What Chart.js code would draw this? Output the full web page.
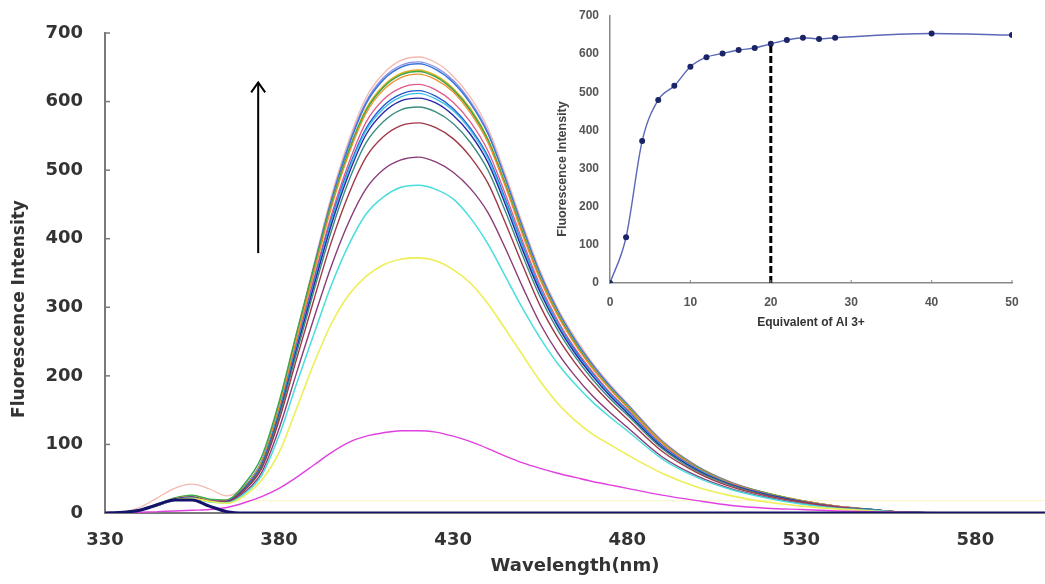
<!DOCTYPE html>
<html><head><meta charset="utf-8">
<script src="https://cdn.jsdelivr.net/npm/chart.js@4"></script>
<style>
html,body{margin:0;padding:0;background:#fff;}
#wrap{position:relative;width:1045px;height:584px;overflow:hidden;background:#fff;}
#main{position:absolute;left:0;top:0;}
#inset{position:absolute;left:545px;top:0;}
</style></head><body>
<div id="wrap"><canvas id="main" width="1045" height="584"></canvas><canvas id="inset" width="490" height="340"></canvas></div>
<script>
// ---------- main spectra data ----------
const wavelengths = [330,335,340,345,350,355,360,365,370,375,380,385,390,395,400,405,410,415,420,425,430,435,440,445,450,455,460,465,470,475,480,490,500,510,520,530,540,550,560,580,600];
const xTickValues = [330,380,430,480,530,580];
const xTitle = 'Wavelength(nm)';
const yTitle = 'Fluorescence Intensity';

const s665 = [0,2,8,22,36,42,35,25,39,76,157,262,363,462,543,606,641,660,665,657,637,606,561,494,421,353,299,256,219,188,160,106,69,45,29,18,10,5,1,0,0];
const s658 = [0,1,4,12,21,24,18,18,38,75,156,259,360,457,538,600,635,653,658,650,631,600,556,489,417,350,296,253,217,186,159,105,68,44,29,18,10,5,1,0,0];
const s655 = [0,1,4,12,20,23,18,17,38,75,155,258,358,455,535,597,632,650,655,647,628,597,553,487,415,348,295,252,216,185,158,104,68,44,29,18,10,5,1,0,0];
const s646 = [0,1,4,12,21,25,19,18,37,74,153,254,353,449,527,589,623,641,646,638,619,589,545,480,409,343,291,248,213,182,156,103,67,43,29,18,10,5,1,0,0];
const s644 = [0,1,5,13,22,26,20,19,42,82,162,262,358,450,528,587,621,639,644,636,617,587,544,479,408,342,290,248,212,182,155,102,67,43,29,18,10,5,1,0,0];
const s640 = [0,1,4,12,21,24,18,18,37,73,151,252,350,445,523,583,617,635,640,632,614,583,540,476,405,340,288,246,211,181,154,102,66,43,28,18,10,5,1,0,0];
const s625 = [0,1,4,11,20,23,18,17,36,72,148,246,342,434,510,570,603,620,625,617,599,570,528,465,396,332,281,240,206,176,151,99,65,42,28,17,10,5,1,0,0];
const s616 = [0,1,4,12,20,23,17,17,36,71,146,243,337,428,503,561,594,611,616,608,590,561,520,458,390,327,277,237,203,174,149,98,64,41,27,17,9,5,1,0,0];
const s612 = [0,1,4,11,19,22,17,16,35,70,145,241,334,425,500,558,590,607,612,604,587,558,517,455,388,325,276,235,202,173,148,97,64,41,27,17,9,5,1,0,0];
const s605 = [0,1,4,12,20,23,17,17,35,69,143,238,331,420,494,552,584,601,605,598,580,552,511,450,383,322,273,233,200,171,146,96,63,41,27,17,9,5,1,0,0];
const s592 = [0,1,4,11,19,22,17,16,34,68,140,233,324,411,484,540,571,588,592,585,568,540,500,440,375,315,267,228,195,167,143,94,61,40,26,16,9,5,1,0,0];
const s569 = [0,1,4,11,19,22,17,16,33,65,135,224,311,395,465,519,549,565,569,562,546,519,481,423,361,302,256,219,188,161,137,90,59,38,25,16,9,4,1,0,0];
const s519 = [0,1,4,11,19,22,17,15,30,59,123,204,284,360,424,473,501,515,519,512,497,473,438,386,329,276,234,200,171,147,125,82,54,35,23,14,8,4,1,0,0];
const s478 = [0,1,4,11,19,22,16,15,28,55,113,188,261,332,391,436,461,475,478,472,458,430,392,345,298,255,218,188,162,140,120,79,52,34,22,13,7,4,1,0,0];
const s372 = [0,1,4,11,19,21,17,14,25,48,88,152,218,276,318,345,362,370,372,368,355,335,305,268,230,192,160,135,115,100,85,58,38,25,16,10,6,3,1,0,0];
const s120 = [0,0,1,2,3,4,5,8,15,24,36,52,70,88,103,112,117,120,120,118,112,104,94,83,73,65,58,52,46,41,36,26,18,11,7,5,3,2,1,0,0];
const s000 = [0,1,4,12,19,19,10,2,0,0,0,0,0,0,0,0,0,0,0,0,0,0,0,0,0,0,0,0,0,0,0,0,0,0,0,0,0,0,0,0,0];
const sBase = [null,null,null,null,null,null,null,18,18,18,18,18,18,18,18,18,18,18,18,18,18,18,18,18,18,18,18,18,18,18,18,18,18,18,18,18,18,18,18,18,18];

// arrow annotation (data units)
const arrowNm = 374, arrowFrom = 379, arrowTo = 628;

// ---------- inset data ----------
const eqX = [0,2,4,6,8,10,12,14,16,18,20,22,24,26,28,40,50];
const eqY = [0,120,372,480,517,567,592,602,611,616,627,637,643,640,643,654,650];
const dashEq = 20, dashTop = 627;
const insetXTitle = 'Equivalent of Al 3+';
const insetYTitle = 'Fluorescence Intensity';

// ---------- build ----------
const pts = arr => wavelengths.map((w,i)=>({x:w,y:arr[i]}));
const mainSeries = [
  [s000,'#14146e',3],
  [s120,'#e040e0',1.4],
  [s372,'#eeee55',1.6],
  [s478,'#48dede',1.5],
  [s519,'#8a3c78',1.4],
  [s569,'#a03848',1.4],
  [s592,'#3c8c80',1.4],
  [s605,'#2828a8',1.4],
  [s612,'#38c0e8',1.4],
  [s616,'#2858d0',1.4],
  [s625,'#e05a8a',1.3],
  [s640,'#f09030',1.3],
  [s644,'#3aa84a',1.5],
  [s646,'#e0b020',1.8],
  [s655,'#3c78d8',1.5],
  [s658,'#8f8fe8',1.3],
  [s665,'#f5b8b0',1.3],
  [sBase,'#fcf7cc',1.2]
];
const mainDatasets = mainSeries.map(([arr,c,w])=>({data:pts(arr),borderColor:c,borderWidth:w,pointRadius:0,fill:false,tension:0.4,cubicInterpolationMode:'monotone',spanGaps:false}));

const FONT = '"DejaVu Sans", "Liberation Sans", Arial, sans-serif';
const AFONT = '"Liberation Sans", Arial, sans-serif';

const mainDecor = {
  id:'mainDecor',
  afterDraw(chart){
    const {ctx, scales:{x,y}, chartArea} = chart;
    ctx.save();
    ctx.strokeStyle='#7a7a7a'; ctx.lineWidth=1.5;
    y.ticks.forEach(t=>{ if(t.value===0) return; const py=y.getPixelForValue(t.value); ctx.beginPath(); ctx.moveTo(chartArea.left,py); ctx.lineTo(chartArea.left+5,py); ctx.stroke(); });
    const ax=x.getPixelForValue(arrowNm), ay0=y.getPixelForValue(arrowFrom), ay1=y.getPixelForValue(arrowTo);
    ctx.strokeStyle='#000'; ctx.lineWidth=2;
    ctx.beginPath(); ctx.moveTo(ax,ay0); ctx.lineTo(ax,ay1); ctx.stroke();
    ctx.beginPath(); ctx.moveTo(ax-7,ay1+10); ctx.lineTo(ax,ay1); ctx.lineTo(ax+7,ay1+10); ctx.stroke();
    ctx.translate(20,309); ctx.rotate(-Math.PI/2);
    ctx.font='bold 17px '+FONT; ctx.fillStyle='#333'; ctx.textAlign='center'; ctx.textBaseline='middle';
    ctx.fillText(yTitle,0,0);
    ctx.restore();
  }
};

new Chart(document.getElementById('main'),{
  type:'line',
  data:{datasets:mainDatasets},
  options:{
    responsive:false, animation:false, devicePixelRatio:1,
    layout:{padding:{top:33,right:0,left:0,bottom:0}},
    plugins:{legend:{display:false},tooltip:{enabled:false}},
    scales:{
      x:{type:'linear',min:330,max:600,
        afterBuildTicks:s=>{s.ticks=xTickValues.map(v=>({value:v}));},
        grid:{display:false},border:{display:true,color:'#7a7a7a',width:2},
        ticks:{font:{family:FONT,size:18,weight:'bold'},color:'#333',padding:9,maxRotation:0,autoSkip:false},
        title:{display:true,text:xTitle,font:{family:FONT,size:18,weight:'bold'},color:'#333',padding:{top:4,bottom:7}},
        afterFit:s=>{s.height=71;}},
      y:{type:'linear',min:0,max:700,
        ticks:{stepSize:100,font:{family:FONT,size:18,weight:'bold'},color:'#333',padding:14},
        grid:{display:false},border:{display:true,color:'#7a7a7a',width:2},
        afterFit:s=>{s.width=105;}}
    }
  },
  plugins:[mainDecor]
});

const insetDecor = {
  id:'insetDecor',
  afterDraw(chart){
    const {ctx, scales:{x,y}, chartArea} = chart;
    ctx.save();
    ctx.strokeStyle='#888'; ctx.lineWidth=1;
    x.ticks.forEach(t=>{ if(t.value===0) return; const px=x.getPixelForValue(t.value); ctx.beginPath(); ctx.moveTo(px,chartArea.bottom); ctx.lineTo(px,chartArea.bottom-3); ctx.stroke(); });
    ctx.translate(18,169); ctx.rotate(-Math.PI/2);
    ctx.font='bold 12.5px '+AFONT; ctx.fillStyle='#444'; ctx.textAlign='center'; ctx.textBaseline='middle';
    ctx.fillText(insetYTitle,0,0);
    ctx.restore();
  }
};

new Chart(document.getElementById('inset'),{
  type:'line',
  data:{datasets:[
    {data:[{x:dashEq,y:0},{x:dashEq,y:dashTop}],borderColor:'#000',borderWidth:3,borderDash:[7,3],pointRadius:0,tension:0},
    {data:eqX.map((v,i)=>({x:v,y:eqY[i]})),borderColor:'#5a68b8',borderWidth:1.4,pointRadius:3,pointBackgroundColor:'#1a2466',pointBorderColor:'#1a2466',pointBorderWidth:0,tension:0.4,cubicInterpolationMode:'monotone'}
  ]},
  options:{
    responsive:false, animation:false, devicePixelRatio:1,
    layout:{padding:{top:16,right:23,left:0,bottom:0}},
    plugins:{legend:{display:false},tooltip:{enabled:false}},
    scales:{
      x:{type:'linear',min:0,max:50,
        grid:{display:false},border:{display:true,color:'#888',width:1.5},
        ticks:{stepSize:10,font:{family:AFONT,size:12,weight:'bold'},color:'#555',padding:4,maxRotation:0},
        title:{display:true,text:insetXTitle,font:{family:AFONT,size:12,weight:'bold'},color:'#333',padding:{top:2,bottom:10}},
        afterFit:s=>{s.height=57;}},
      y:{type:'linear',min:0,max:700,
        grid:{display:false},border:{display:true,color:'#888',width:1.5},
        ticks:{stepSize:100,font:{family:AFONT,size:12,weight:'bold'},color:'#555',padding:3},
        afterFit:s=>{s.width=65;}}
    }
  },
  plugins:[insetDecor]
});
</script>
</body></html>
